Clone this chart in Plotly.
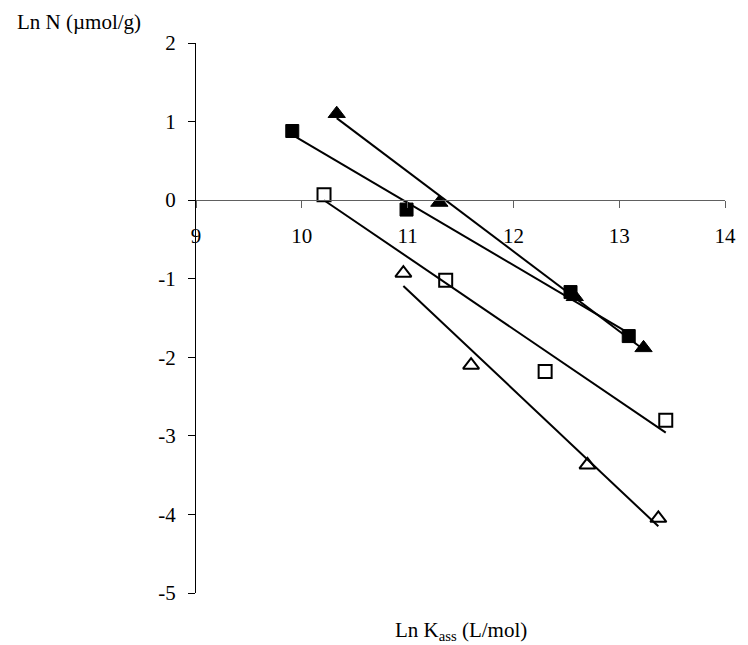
import numpy as np
import plotly.graph_objects as go

# Data
fs_x = [9.91, 10.99, 12.54, 13.09]   # filled squares
fs_y = [0.88, -0.12, -1.17, -1.73]
ft_x = [10.33, 11.30, 12.58, 13.23]  # filled triangles
ft_y = [1.10, -0.03, -1.23, -1.88]
os_x = [10.21, 11.36, 12.30, 13.44]  # open squares
os_y = [0.07, -1.02, -2.18, -2.80]
ot_x = [10.96, 11.60, 12.70, 13.37]  # open triangles
ot_y = [-0.93, -2.10, -3.37, -4.05]

x_ticks = [9, 10, 11, 12, 13, 14]
y_ticks = [-5, -4, -3, -2, -1, 0, 1, 2]

FONT = "Liberation Serif"
FS = 21

series = [
    (fs_x, fs_y, "square", 13, 1),
    (ft_x, ft_y, "triangle-up", 15, 1),
    (os_x, os_y, "square-open", 13, 2),
    (ot_x, ot_y, "triangle-up-open", 14, 2),
]

fig = go.Figure()

# linear trendlines (least squares fit of each series)
for xs, ys, _, _, _ in series:
    xs_a = np.array(xs); ys_a = np.array(ys)
    m, b = np.polyfit(xs_a, ys_a, 1)
    lx = np.array([xs_a.min(), xs_a.max()])
    fig.add_trace(go.Scatter(x=lx, y=m * lx + b, mode="lines",
                             line=dict(color="black", width=2),
                             showlegend=False, hoverinfo="skip"))

for xs, ys, sym, sz, lw in series:
    fig.add_trace(go.Scatter(x=xs, y=ys, mode="markers",
                             marker=dict(symbol=sym, size=sz, color="black",
                                         line=dict(color="black", width=lw)),
                             showlegend=False))

W, H = 748, 645
L, R, T, B = 196, 13, 43, 52
PW, PH = W - L - R, H - T - B

fig.update_layout(
    width=W, height=H,
    margin=dict(l=L, r=R, t=T, b=B),
    paper_bgcolor="white", plot_bgcolor="white",
    font=dict(family=FONT, size=FS, color="black"),
    xaxis=dict(range=[9, 14], tickvals=x_ticks, ticktext=[str(v) for v in x_ticks],
               showgrid=False, zeroline=False,
               showline=True, linecolor="#606060", linewidth=1,
               ticks="outside", ticklen=7, tickcolor="#606060",
               anchor="free", position=5 / 7, side="bottom",
               ticklabelstandoff=10,
               tickfont=dict(family=FONT, size=FS, color="black")),
    yaxis=dict(range=[-5, 2], tickvals=y_ticks, ticktext=[str(v) for v in y_ticks],
               showgrid=False, zeroline=False,
               showline=True, linecolor="black", linewidth=1,
               ticks="outside", ticklen=7, tickcolor="black",
               ticklabelstandoff=8,
               tickfont=dict(family=FONT, size=FS, color="black")),
    annotations=[
        dict(text="Ln N (µmol/g)", xref="paper", yref="paper",
             x=-(L - 12) / PW, y=1 + 21 / PH, xanchor="left", yanchor="middle",
             showarrow=False, font=dict(family=FONT, size=FS, color="black")),
        dict(text="Ln K<sub>ass</sub> (L/mol)", xref="paper", yref="paper",
             x=(466 - L) / PW, y=-(631 - (H - B)) / PH, xanchor="center", yanchor="middle",
             showarrow=False, font=dict(family=FONT, size=FS, color="black")),
    ],
)

fig.write_html(
    "out.html",
    config={"displayModeBar": False},
    post_script="document.body.style.margin='0';document.body.style.overflow='hidden';",
)
